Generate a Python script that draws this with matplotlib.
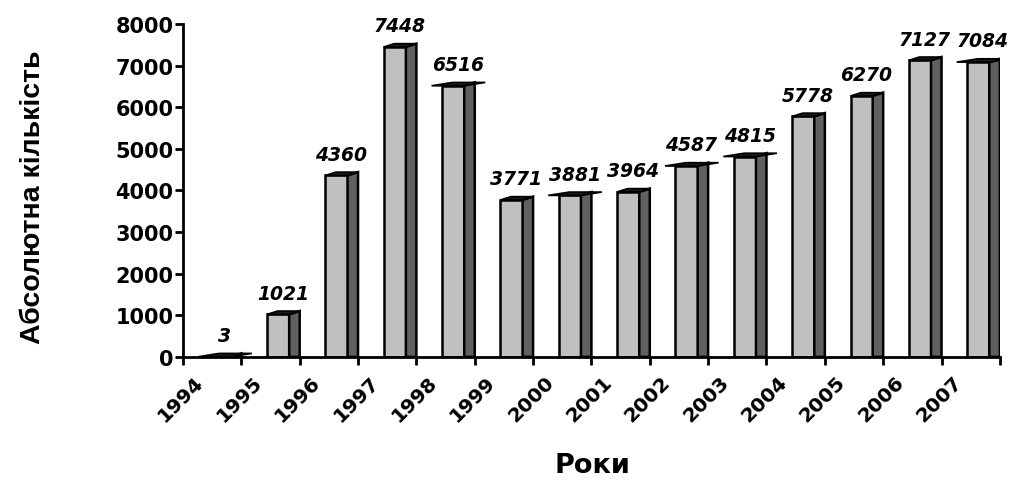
import matplotlib
matplotlib.use('Agg')
import matplotlib.pyplot as plt
import matplotlib.transforms as mtransforms

years = ['1994', '1995', '1996', '1997', '1998', '1999', '2000',
         '2001', '2002', '2003', '2004', '2005', '2006', '2007']
counts = [3, 1021, 4360, 7448, 6516, 3771, 3881,
          3964, 4587, 4815, 5778, 6270, 7127, 7084]
# bars whose top face was drawn a bit wider in the original picture
wide_tops = ['1994', '1998', '2000', '2002', '2003', '2007']

plt.rcParams['font.family'] = ['DejaVu Sans']

fig = plt.figure(figsize=(10.11, 4.81), dpi=100)
ax = fig.add_axes([0.181, 0.256, 0.808, 0.692])

front_col = '#c0c0c0'
side_col = '#606060'
top_col = '#1a1a1a'
d = 80  # depth of top face in data units

for i, (yr, v) in enumerate(zip(years, counts)):
    x0 = i + 0.44
    x1 = i + 0.82
    x2 = i + 1.0
    # front face
    ax.fill([x0, x1, x1, x0], [0, 0, v, v], facecolor=front_col,
            edgecolor='k', linewidth=1.8, zorder=3)
    # side face
    ax.fill([x1, x2, x2, x1], [0, 0, v + d, v], facecolor=side_col,
            edgecolor='k', linewidth=1.8, zorder=3)
    # top face
    e = 0.18 if yr in wide_tops else 0.0
    ax.fill([x0 - e, x1, x2 + e, x0 + (x2 - x1)], [v, v, v + d, v + d],
            facecolor=top_col, edgecolor='k', linewidth=1.2, zorder=4)
    ax.annotate(str(v), xy=(i + 0.71, v + d), xytext=(0, 6),
                textcoords='offset points', ha='center', va='bottom',
                fontsize=13.5, fontweight='bold', fontstyle='italic',
                zorder=5, annotation_clip=False)

ax.set_xlim(0, 14)
ax.set_ylim(0, 8000)
ax.set_yticks(range(0, 8001, 1000))
ax.set_xticks(range(0, 15))
ax.set_xticklabels(years + [''])

for s in ['top', 'right']:
    ax.spines[s].set_visible(False)
for s in ['left', 'bottom']:
    ax.spines[s].set_linewidth(2)
    ax.spines[s].set_zorder(6)

ax.tick_params(axis='both', width=2, length=6)
ax.tick_params(axis='y', pad=1, labelsize=15)
ax.tick_params(axis='x', labelsize=14.5)
for lab in ax.get_yticklabels():
    lab.set_fontweight('bold')

offset = mtransforms.ScaledTranslation(0.11, -0.02, fig.dpi_scale_trans)
for lab in ax.get_xticklabels():
    lab.set_fontweight('bold')
    lab.set_rotation(45)
    lab.set_rotation_mode('anchor')
    lab.set_ha('right')
    lab.set_va('top')
    lab.set_transform(lab.get_transform() + offset)

fig.text(33 / 1011, 0.59, 'Абсолютна кількість', rotation=90, ha='center',
         va='center', fontsize=20.5, fontweight='bold',
         family=['Liberation Sans', 'DejaVu Sans'])
fig.text(592 / 1011, 1 - 466 / 481, 'Роки', ha='center', va='center',
         fontsize=19.5, fontweight='bold')

fig.savefig('out.png', dpi=100)
